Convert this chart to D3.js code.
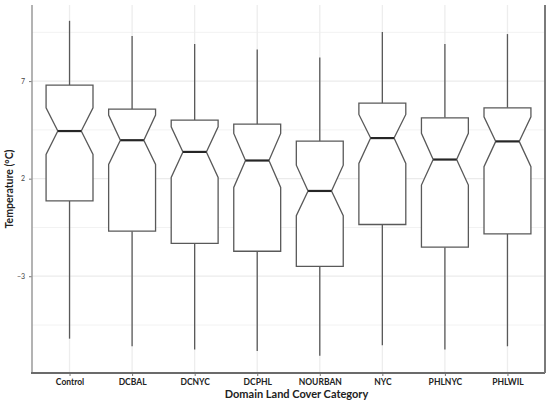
<!DOCTYPE html>
<html>
<head>
<meta charset="utf-8">
<script src="https://cdn.jsdelivr.net/npm/d3@7"></script>
<style>
  html, body { margin: 0; padding: 0; background: #fff; }
  svg { display: block; }
</style>
</head>
<body>
<svg id="chart" width="550" height="401"></svg>
<script>
const categories = ["Control", "DCBAL", "DCNYC", "DCPHL", "NOURBAN", "NYC", "PHLNYC", "PHLWIL"];
const whiskerHigh = [10.09, 9.31, 8.90, 8.62, 8.21, 9.51, 8.90, 9.41];
const q3Values = [6.79, 5.56, 5.00, 4.79, 3.92, 5.87, 5.12, 5.63];
const notchUpper = [5.63, 5.26, 4.66, 4.32, 2.69, 5.29, 4.32, 5.17];
const medianValues = [4.44, 3.97, 3.37, 2.93, 1.37, 4.08, 2.98, 3.91];
const notchLower = [3.24, 2.73, 2.06, 1.55, 0.10, 2.78, 1.67, 2.61];
const q1Values = [0.86, -0.69, -1.32, -1.72, -2.50, -0.35, -1.51, -0.83];
const whiskerLow = [-6.20, -6.59, -6.76, -6.83, -7.07, -6.54, -6.76, -6.59];
const majorTicks = [-3, 2, 7];
const minorTicks = [-5.5, -0.5, 4.5, 9.5];
const xTitle = "Domain Land Cover Category";
const yTitle = "Temperature (°C)";

(function () {
const svg = d3.select("#chart");
const pL = 32, pR = 545, pT = 5, pB = 373;

const x = d3.scalePoint().domain(categories).range([pL, pR]).padding(0.6);
const y = d3.scaleLinear().domain([-7.96, 10.9]).range([pB, pT]);

const boxes = categories.map((c, i) => ({
  cat: c, hi: whiskerHigh[i], q3: q3Values[i], nu: notchUpper[i], med: medianValues[i],
  nl: notchLower[i], q1: q1Values[i], lo: whiskerLow[i]
}));

// grid
const g = svg.append("g");
g.selectAll("line.minor").data(minorTicks).join("line")
  .attr("x1", pL).attr("x2", pR)
  .attr("y1", d => y(d)).attr("y2", d => y(d))
  .attr("stroke", "#f2f2f2").attr("stroke-width", 1);
g.selectAll("line.major").data(majorTicks).join("line")
  .attr("x1", pL).attr("x2", pR)
  .attr("y1", d => y(d)).attr("y2", d => y(d))
  .attr("stroke", "#ebebeb").attr("stroke-width", 1.3);
g.selectAll("line.vgrid").data(categories).join("line")
  .attr("x1", d => x(d)).attr("x2", d => x(d))
  .attr("y1", pT).attr("y2", pB)
  .attr("stroke", "#ededed").attr("stroke-width", 1.3);

// boxes
const halfW = x.step() * 0.75 / 2;
const indent = halfW * 0.5;
const bx = svg.append("g");
boxes.forEach(b => {
  const cx = x(b.cat);
  bx.append("line").attr("x1", cx).attr("x2", cx).attr("y1", y(b.hi)).attr("y2", y(b.q3))
    .attr("stroke", "#595959").attr("stroke-width", 1.3);
  bx.append("line").attr("x1", cx).attr("x2", cx).attr("y1", y(b.q1)).attr("y2", y(b.lo))
    .attr("stroke", "#595959").attr("stroke-width", 1.3);
  const x0 = cx - halfW, x1 = cx + halfW;
  const pts = [
    [x0, y(b.q3)], [x0, y(b.nu)], [x0 + indent, y(b.med)], [x0, y(b.nl)], [x0, y(b.q1)],
    [x1, y(b.q1)], [x1, y(b.nl)], [x1 - indent, y(b.med)], [x1, y(b.nu)], [x1, y(b.q3)]
  ];
  bx.append("path").attr("d", d3.line()(pts) + "Z")
    .attr("fill", "#fff").attr("stroke", "#595959").attr("stroke-width", 1.3)
    .attr("stroke-linejoin", "miter");
  bx.append("line").attr("x1", x0 + indent).attr("x2", x1 - indent)
    .attr("y1", y(b.med)).attr("y2", y(b.med))
    .attr("stroke", "#262626").attr("stroke-width", 2.2);
});

// axes
const yAxis = svg.append("g").attr("transform", `translate(${pL},0)`)
  .call(d3.axisLeft(y).tickValues(majorTicks).tickSize(3).tickPadding(4).tickFormat(d3.format("d")));
yAxis.select(".domain").remove();
yAxis.selectAll(".tick line").attr("stroke", "#555").attr("stroke-width", 0.8);
yAxis.selectAll(".tick text").attr("font-family", "Lato, 'Open Sans', sans-serif")
  .attr("font-size", 7).attr("fill", "#444");

const xAxis = svg.append("g").attr("transform", `translate(0,${pB})`)
  .call(d3.axisBottom(x).tickSize(3).tickPadding(3));
xAxis.select(".domain").remove();
xAxis.selectAll(".tick line").attr("stroke", "#555").attr("stroke-width", 0.8);
xAxis.selectAll(".tick text").attr("font-family", "Lato, 'Open Sans', sans-serif")
  .attr("font-size", 8.5).attr("font-weight", "bold").attr("fill", "#222");

// axis lines
svg.append("line").attr("x1", pL).attr("x2", pL).attr("y1", pT).attr("y2", pB)
  .attr("stroke", "#9a9a9a").attr("stroke-width", 1.5);
svg.append("line").attr("x1", pL - 1).attr("x2", pR).attr("y1", pB).attr("y2", pB)
  .attr("stroke", "#6b6b6b").attr("stroke-width", 2);
svg.append("line").attr("x1", pR).attr("x2", pR).attr("y1", pT).attr("y2", pB)
  .attr("stroke", "#7a7a7a").attr("stroke-width", 2);

// titles
svg.append("text").attr("x", (pL + pR) / 2 + 8).attr("y", 398)
  .attr("text-anchor", "middle").attr("font-family", "Lato, 'Open Sans', sans-serif")
  .attr("font-weight", "bold").attr("font-size", 11).attr("fill", "#222").text(xTitle);
svg.append("text").attr("transform", `translate(13,${(pT + pB) / 2}) rotate(-90)`)
  .attr("text-anchor", "middle").attr("font-family", "Lato, 'Open Sans', sans-serif")
  .attr("font-weight", "bold").attr("font-size", 10.5).attr("fill", "#222").text(yTitle);
})();
</script>
</body>
</html>
